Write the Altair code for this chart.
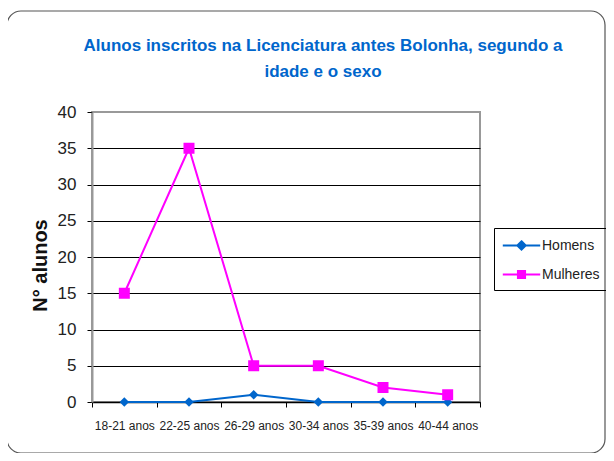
import altair as alt
import pandas as pd

categories = ["18-21 anos", "22-25 anos", "26-29 anos", "30-34 anos", "35-39 anos", "40-44 anos"]
homens = [0, 0, 1, 0, 0, 0]
mulheres = [15, 35, 5, 5, 2, 1]
series = ["Homens", "Mulheres"]
colors = ["#0066CC", "#FF00FF"]
y_ticks = [0, 5, 10, 15, 20, 25, 30, 35, 40]
title_lines = ["Alunos inscritos na Licenciatura antes Bolonha, segundo a", "idade e o sexo"]

rows = []
for c, h, m in zip(categories, homens, mulheres):
    rows.append({"idade": c, "sexo": "Homens", "alunos": h})
    rows.append({"idade": c, "sexo": "Mulheres", "alunos": m})
df = pd.DataFrame(rows)

FONT = "Liberation Sans"
p_diamond = "M-2,0L2,0M0,-0.45L0.45,0L0,0.45L-0.45,0Z"
p_square = "M-2,0L2,0M-0.38,-0.38L0.38,-0.38L0.38,0.38L-0.38,0.38Z"

x_enc = alt.X("idade:N", sort=categories,
              scale=alt.Scale(type="band", paddingInner=0, paddingOuter=0),
              axis=alt.Axis(labelAngle=0, title=None, domainColor="black", domainWidth=1.5,
                            tickColor="black", tickSize=5, tickBand="extent", labelOverlap=False,
                            labelFontSize=12, labelFont=FONT, labelColor="#222", labelPadding=13,
                            grid=False))
y_enc = alt.Y("alunos:Q", scale=alt.Scale(domain=[0, 40], nice=False),
              axis=alt.Axis(values=y_ticks, grid=True,
                            gridColor={"condition": {"test": "datum.value === 40", "value": "#999999"}, "value": "black"},
                            gridWidth=1, domainColor="#999999", domainWidth=2,
                            tickColor="black", tickSize=5, labelFontSize=17, labelFont=FONT,
                            labelColor="#222", labelPadding=11,
                            title="N° alunos", titleFontSize=20, titleFont=FONT,
                            titleFontWeight="bold", titleColor="#111", titlePadding=7, titleY=153))

color_scale = alt.Scale(domain=series, range=colors)

legend = alt.Legend(
    orient="none", legendX=402, legendY=116, title=None, strokeColor="black",
    padding=7, symbolSize=350, symbolStrokeWidth=2, symbolOffset=10,
    labelFontSize=14, labelFont=FONT, labelColor="#222", labelOffset=10,
    rowPadding=10, symbolOpacity=1,
)

base = alt.Chart(df)
lines = base.mark_line(strokeWidth=2).encode(
    x=x_enc, y=y_enc,
    color=alt.Color("sexo:N", scale=color_scale, legend=None),
)
points = base.mark_point(filled=True, opacity=1).encode(
    x=x_enc, y=y_enc,
    color=alt.Color("sexo:N", scale=color_scale, legend=None),
    shape=alt.Shape("sexo:N", scale=alt.Scale(domain=series, range=["diamond", "square"]), legend=None),
    size=alt.Size("sexo:N", scale=alt.Scale(domain=series, range=[90, 121]), legend=None),
)
legend_layer = base.transform_filter("false").mark_point(opacity=1, strokeWidth=2).encode(
    x=x_enc, y=y_enc,
    fill=alt.Fill("sexo:N", scale=alt.Scale(domain=series, range=colors), legend=legend),
    stroke=alt.Stroke("sexo:N", scale=alt.Scale(domain=series, range=colors), legend=legend),
    shape=alt.Shape("sexo:N", scale=alt.Scale(domain=series, range=[p_diamond, p_square]), legend=legend),
)

frame = alt.Chart(pd.DataFrame({"a": [0]})).mark_rect(
    fill=None, stroke="#555", strokeWidth=1.2, cornerRadius=14
).encode(x=alt.value(-85), x2=alt.value(513), y=alt.value(-101), y2=alt.value(341))

title1 = alt.Chart(pd.DataFrame({"t": [title_lines[0]]})).mark_text(
    font=FONT, fontSize=17, fontWeight="bold", color="#0066CC", align="center", baseline="middle"
).encode(text="t:N", x=alt.value(231), y=alt.value(-66))
title2 = alt.Chart(pd.DataFrame({"t": [title_lines[1]]})).mark_text(
    font=FONT, fontSize=17, fontWeight="bold", color="#0066CC", align="center", baseline="middle"
).encode(text="t:N", x=alt.value(231), y=alt.value(-40))

chart = alt.layer(frame, title1, title2, lines, points, legend_layer).resolve_scale(
    shape="independent", size="independent", fill="independent", stroke="independent",
    color="independent"
).properties(
    width=388, height=290,
    padding={"left": 84, "top": 104, "right": 126, "bottom": 51},
    autosize=alt.AutoSizeParams(type="none"),
    background="white",
).configure_view(stroke="#999999", strokeWidth=2)

chart.save("out.html", embed_options={"renderer": "svg", "actions": False})
